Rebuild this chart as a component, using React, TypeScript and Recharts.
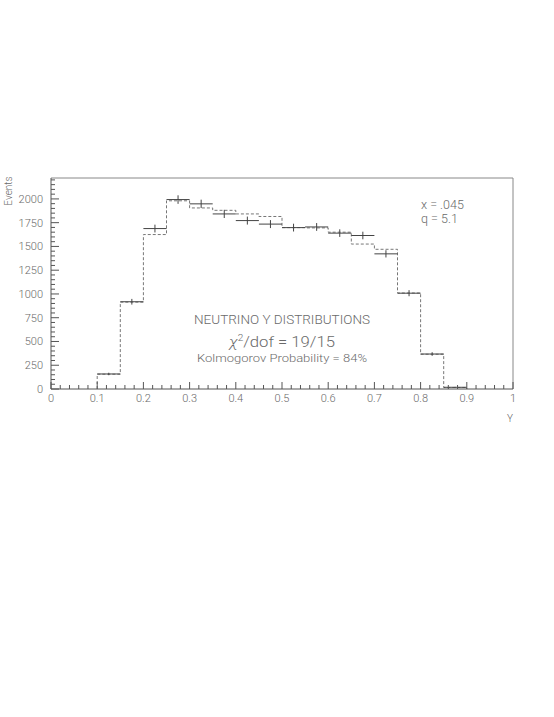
import {
  ComposedChart,
  XAxis,
  YAxis,
  Line,
  Scatter,
  ErrorBar,
  ReferenceLine,
} from "recharts";

// bin edges, 0.05 wide
const binLow = [0.1, 0.15, 0.2, 0.25, 0.3, 0.35, 0.4, 0.45, 0.5, 0.55, 0.6, 0.65, 0.7, 0.75, 0.8, 0.85];
// measured events (crosses)
const dataEvents = [158, 918, 1688, 1993, 1948, 1842, 1772, 1735, 1698, 1705, 1640, 1615, 1422, 1008, 368, 18];
const dataErr = [13, 30, 41, 45, 44, 43, 42, 42, 41, 41, 40, 40, 38, 32, 19, 4];
// monte carlo prediction (dashed histogram)
const mcEvents = [156, 914, 1625, 1980, 1905, 1880, 1842, 1815, 1698, 1695, 1650, 1525, 1470, 1010, 366, 16];

const xMajor = [0, 0.1, 0.2, 0.3, 0.4, 0.5, 0.6, 0.7, 0.8, 0.9, 1];
const yMajor = [0, 250, 500, 750, 1000, 1250, 1500, 1750, 2000];
const Y_MAX = 2220;

const xTicks = Array.from({ length: 51 }, (_, i) => i / 50);
const yTicks = Array.from({ length: 45 }, (_, i) => i * 50);

const points = binLow.map((lo, i) => ({
  x: lo + 0.025,
  y: dataEvents[i],
  xErr: 0.025,
  yErr: dataErr[i],
}));

const mcStep = [
  { x: binLow[0], mc: 0 },
  ...binLow.map((lo, i) => ({ x: lo, mc: mcEvents[i] })),
  { x: 0.9, mc: mcEvents[mcEvents.length - 1] },
  { x: 0.9, mc: 0 },
];

const FONT = "Roboto, 'DejaVu Sans', sans-serif";
const TXT = "#6a6a6a";
const AXIS = "#555";

function XTick(props: any) {
  const { x, y, payload } = props;
  const v = payload.value as number;
  const major = xMajor.some((m) => Math.abs(m - v) < 1e-6);
  const label = v === 0 ? "0" : Math.abs(v - 1) < 1e-6 ? "1" : v.toFixed(1);
  return (
    <g>
      <line x1={x} x2={x} y1={y} y2={y - (major ? 7 : 4)} stroke={AXIS} strokeWidth={1} />
      {major && (
        <text x={x} y={y + 13} textAnchor="middle" fontSize={11} fill={TXT} fontFamily={FONT} fontWeight={300}>
          {label}
        </text>
      )}
    </g>
  );
}

function YTick(props: any) {
  const { x, y, payload } = props;
  const v = payload.value as number;
  const major = yMajor.includes(v);
  return (
    <g>
      <line x1={x} x2={x + (major ? 8 : 4)} y1={y} y2={y} stroke={AXIS} strokeWidth={1} />
      {major && (
        <text x={x - 8} y={y + 4} textAnchor="end" fontSize={11} fill={TXT} fontFamily={FONT} fontWeight={300}>
          {v}
        </text>
      )}
    </g>
  );
}

export default function App() {
  return (
    <div style={{ position: "absolute", left: 0, top: 0, width: 554, height: 717, background: "#fff" }}>
      <ComposedChart
        width={554}
        height={717}
        margin={{ top: 178, left: 11, right: 41, bottom: 298 }}
      >
        <XAxis
          dataKey="x"
          type="number"
          domain={[0, 1]}
          ticks={xTicks}
          interval={0}
          height={30}
          tickSize={0}
          tickMargin={0}
          tickLine={false}
          stroke={AXIS}
          tick={<XTick />}
          allowDataOverflow
        />
        <YAxis
          type="number"
          domain={[0, Y_MAX]}
          ticks={yTicks}
          interval={0}
          width={40}
          tickSize={0}
          tickMargin={0}
          tickLine={false}
          stroke={AXIS}
          tick={<YTick />}
          allowDataOverflow
        />
        <ReferenceLine y={Y_MAX} stroke="#888" />
        <ReferenceLine x={1} stroke="#888" />
        <Line
          data={mcStep}
          dataKey="mc"
          type="stepAfter"
          stroke="#777"
          strokeWidth={1}
          strokeDasharray="3 2"
          dot={false}
          isAnimationActive={false}
        />
        <Scatter
          data={points}
          dataKey="y"
          shape={() => <g />}
          isAnimationActive={false}
        >
          <ErrorBar dataKey="xErr" direction="x" width={0} stroke="#444" strokeWidth={1} />
          <ErrorBar dataKey="yErr" direction="y" width={0} stroke="#444" strokeWidth={1} />
        </Scatter>
      </ComposedChart>
      <svg
        width={554}
        height={717}
        style={{ position: "absolute", left: 0, top: 0, pointerEvents: "none" }}
        fontFamily={FONT}
        fill={TXT}
        fontWeight={300}
      >
        <text x={12} y={191} fontSize={10} textAnchor="middle" transform="rotate(-90 12 191)">
          Events
        </text>
        <text x={510} y={422} fontSize={10} textAnchor="middle">Y</text>
        <text x={421} y={209} fontSize={12.5}>x = .045</text>
        <text x={421} y={223} fontSize={12.5}>q = 5.1</text>
        <text x={194} y={324} fontSize={13} textLength={176} lengthAdjust="spacingAndGlyphs">
          NEUTRINO Y DISTRIBUTIONS
        </text>
        <text x={229} y={347} fontSize={15} textLength={106} lengthAdjust="spacingAndGlyphs">
          <tspan fontStyle="italic">χ</tspan>
          <tspan fontSize={9} dy={-6}>2</tspan>
          <tspan dy={6}>/dof = 19/15</tspan>
        </text>
        <text x={197} y={362} fontSize={11.5} textLength={170} lengthAdjust="spacingAndGlyphs">
          Kolmogorov Probability = 84%
        </text>
      </svg>
    </div>
  );
}
